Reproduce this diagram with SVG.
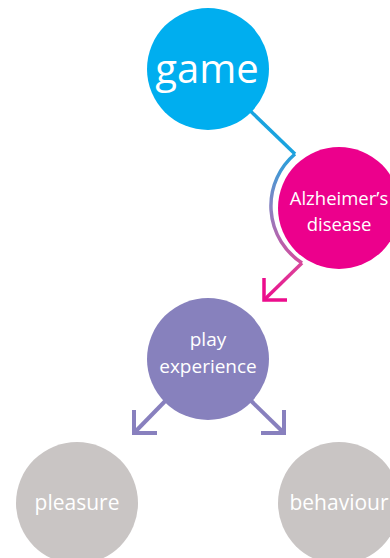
<svg xmlns="http://www.w3.org/2000/svg" width="390" height="558" viewBox="0 0 390 558">
  <style>
    .lbl { font-family: "Open Sans", "Noto Sans", "DejaVu Sans", sans-serif; fill: #ffffff; text-anchor: middle; }
    .conn { fill: none; stroke-width: 3.5; stroke-linejoin: miter; stroke-linecap: butt; }
    .purple { stroke: #8880BE; stroke-width: 4; }
  </style>
  <defs>
    <linearGradient id="arcGrad" gradientUnits="userSpaceOnUse" x1="0" y1="150" x2="0" y2="268">
      <stop offset="0" stop-color="#1AA3DF"/>
      <stop offset="0.5" stop-color="#8D82C0"/>
      <stop offset="1" stop-color="#D9479B"/>
    </linearGradient>
    <linearGradient id="pinkGrad" gradientUnits="userSpaceOnUse" x1="302" y1="263" x2="265" y2="300">
      <stop offset="0" stop-color="#D9479B"/>
      <stop offset="1" stop-color="#EC0D8C"/>
    </linearGradient>
  </defs>
  <rect width="390" height="558" fill="#ffffff"/>
  <g id="connectors">
    <path class="conn" stroke="#1AA3DF" d="M 240 101 L 295 154"/>
    <path class="conn" stroke="url(#arcGrad)" d="M 295 154 A 68 68 0 0 0 302 263"/>
    <path class="conn" stroke="url(#pinkGrad)" d="M 302 263 L 264 300"/>
    <path class="conn" stroke="#EC0D8C" d="M 264 278 L 264 300 L 287 300"/>
    <path class="conn purple" d="M 175 391 L 134 433"/>
    <path class="conn purple" d="M 134 410 L 134 433 L 157 433"/>
    <path class="conn purple" d="M 241 391 L 284 433"/>
    <path class="conn purple" d="M 284 410 L 284 433 L 261 433"/>
  </g>
  <g id="game">
    <circle cx="208" cy="69" r="61" fill="#00AEEF"/>
    <text class="lbl" x="207" y="83" font-size="40">game</text>
  </g>
  <g id="alzheimers">
    <circle cx="339" cy="208" r="61" fill="#EC008C"/>
    <text class="lbl" x="339" y="205" font-size="18.5">Alzheimer’s</text>
    <text class="lbl" x="339" y="231" font-size="18.5">disease</text>
  </g>
  <g id="play-experience">
    <circle cx="208" cy="359" r="61" fill="#8781BD"/>
    <text class="lbl" x="208" y="346" font-size="19">play</text>
    <text class="lbl" x="208" y="373" font-size="19">experience</text>
  </g>
  <g id="pleasure">
    <circle cx="77" cy="503" r="61" fill="#C9C5C4"/>
    <text class="lbl" x="77" y="510" font-size="21">pleasure</text>
  </g>
  <g id="behaviour">
    <circle cx="339" cy="503" r="61" fill="#C9C5C4"/>
    <text class="lbl" x="339" y="510" font-size="21">behaviour</text>
  </g>
</svg>
